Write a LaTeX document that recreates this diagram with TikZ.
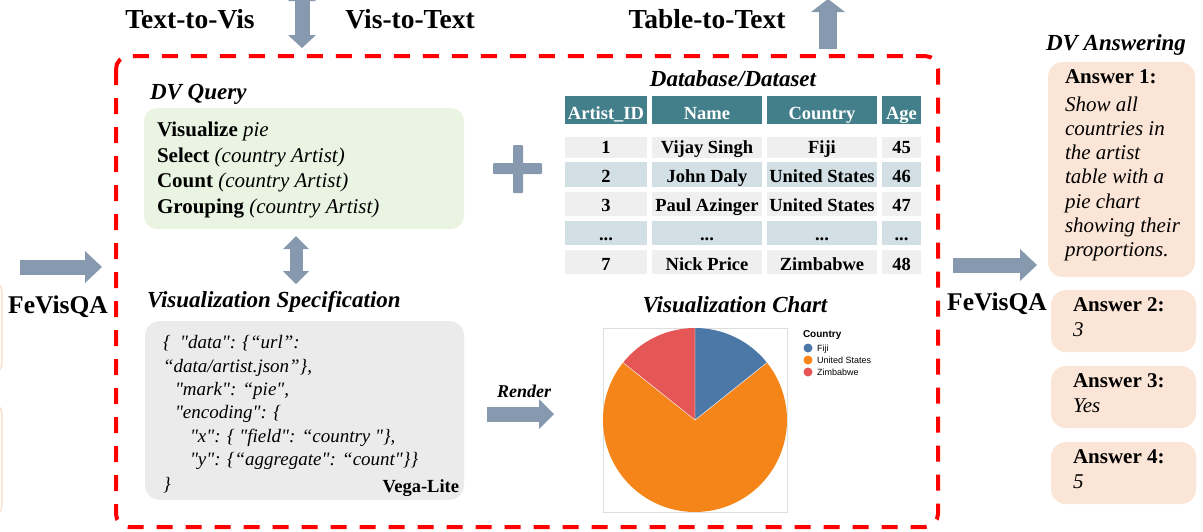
\documentclass[tikz,border=0pt]{standalone}
\usepackage{fontspec}
\setmainfont{Liberation Serif}
\newfontfamily\legendfont{Liberation Sans}
\newfontfamily\specfont{Liberation Serif}[Ligatures=TeXOff]
\usetikzlibrary{arrows.meta}
\definecolor{arrowc}{HTML}{8699AE}
\definecolor{framered}{HTML}{FF0000}
\definecolor{qgreen}{HTML}{EAF4E2}
\definecolor{specgray}{HTML}{EBEBEB}
\definecolor{ansorange}{HTML}{FBE5D6}
\definecolor{ansedge}{HTML}{F7DCC8}
\definecolor{headc}{HTML}{437F8A}
\definecolor{rowgray}{HTML}{EFEFEF}
\definecolor{rowblue}{HTML}{D2DFE5}
\definecolor{fijic}{HTML}{4C78A8}
\definecolor{usc}{HTML}{F58518}
\definecolor{zimc}{HTML}{E45756}
\definecolor{chartframe}{HTML}{DDDDDD}
\newcommand\fsz[1]{\fontsize{#1}{#1}\selectfont}
% table cell: name, xl, yt, xr, yb, fill, text, baseline
\newcommand\tcell[8]{%
  \node[cellbox, fill=#6, minimum width=#4pt-#2pt, minimum height=#5pt-#3pt, anchor=north west] (#1) at (#2,#3) {};
  \node[celltext, anchor=base] (#1t) at ({(#2+#4)/2},#8) {#7};
}
\begin{document}
\begin{tikzpicture}[x=1pt,y=-1pt,
  txt/.style={inner sep=0pt, outer sep=0pt},
  toplabel/.style={txt, font=\fsz{27.5}\bfseries},
  sectitle/.style={txt, font=\fsz{23}\bfseries\itshape},
  qline/.style={txt, font=\fsz{21}, anchor=base west},
  specline/.style={txt, font=\specfont\fsz{19}\itshape, anchor=base west},
  ansbold/.style={txt, font=\fsz{21}\bfseries, anchor=base west},
  ansital/.style={txt, font=\fsz{21}\itshape, anchor=base west},
  cellbox/.style={inner sep=0pt, outer sep=0pt, draw=none},
  celltext/.style={txt, font=\fsz{18.5}\bfseries},
  roundbox/.style={inner sep=0pt, outer sep=0pt, draw=none, rounded corners=13pt},
  ansbox/.style={roundbox, fill=ansorange, rounded corners=15pt},
  blockarrow/.style={draw=arrowc, fill=arrowc, line width=#1},
  legtext/.style={txt, font=\legendfont\fsz{9}, anchor=base west}
]
\useasboundingbox (0,0) rectangle (1203,531);

% faint clipped boxes at left edge
\begin{scope}
  \clip (0,0) rectangle (4,531);
  \draw[ansedge, line width=1.2pt, rounded corners=12pt] (-150,280) rectangle (2,375);
  \draw[ansedge, line width=1.2pt, rounded corners=12pt] (-150,402) rectangle (2,517);
\end{scope}

% red dashed frame
\draw[framered, line width=4pt, dash pattern=on 16pt off 13pt, rounded corners=13pt] (116,56) rectangle (938,527);

% top labels
\node[toplabel, anchor=base] (t2v) at (190,28) {Text-to-Vis};
\node[toplabel, anchor=base] (v2t) at (410,28) {Vis-to-Text};
\node[toplabel, anchor=base] (tab2t) at (707,28) {Table-to-Text};

% arrow anchor coordinates
\coordinate (topA) at (302,-12);
\coordinate (topB) at (302,48);
\coordinate (upA) at (828,49);
\coordinate (upB) at (828,-1);
\coordinate (midA) at (296,236);
\coordinate (midB) at (296,284);
\coordinate (leftA) at (20,267);
\coordinate (leftB) at (102,267);
\coordinate (rightA) at (953,265);
\coordinate (rightB) at (1037,265);
\coordinate (renA) at (487,414);
\coordinate (renB) at (554,414);

\draw[blockarrow=15pt, {Triangle[length=13pt,width=28pt,line width=0pt]}-{Triangle[length=13pt,width=28pt,line width=0pt]}] (topA) -- (topB);
\draw[blockarrow=18pt, -{Triangle[length=13pt,width=34pt,line width=0pt]}] (upA) -- (upB);
\draw[blockarrow=13pt, {Triangle[length=13pt,width=26pt,line width=0pt]}-{Triangle[length=13pt,width=26pt,line width=0pt]}] (midA) -- (midB);
\draw[blockarrow=15pt, -{Triangle[length=17pt,width=32pt,line width=0pt]}] (leftA) -- (leftB);
\draw[blockarrow=15pt, -{Triangle[length=17pt,width=32pt,line width=0pt]}] (rightA) -- (rightB);
\draw[blockarrow=15pt, -{Triangle[length=15pt,width=30pt,line width=0pt]}] (renA) -- (renB);

% FeVisQA labels
\node[txt, font=\fsz{25.5}\bfseries, anchor=base] (fvl) at (58,313) {FeVisQA};
\node[txt, font=\fsz{25.5}\bfseries, anchor=base] (fvr) at (997,310) {FeVisQA};

% DV Query
\node[sectitle, anchor=base west] (dvq) at (150,99) {DV Query};
\node[roundbox, fill=qgreen, minimum width=320pt, minimum height=121pt, anchor=north west] (query) at (144,108) {};
\node[qline] (q1) at (157,136) {\textbf{Visualize} \textit{pie}};
\node[qline] (q2) at (157,162) {\textbf{Select} \textit{(country Artist)}};
\node[qline] (q3) at (157,187) {\textbf{Count} \textit{(country Artist)}};
\node[qline] (q4) at (157,213) {\textbf{Grouping} \textit{(country Artist)}};

% plus sign
\fill[arrowc, rounded corners=1pt] (513,145) rectangle (523,193);
\fill[arrowc, rounded corners=1pt] (493,163) rectangle (542,174);

% Visualization specification
\node[sectitle, anchor=base west] (vst) at (147,307) {Visualization Specification};
\node[roundbox, fill=specgray, rounded corners=15pt, minimum width=319pt, minimum height=179pt, anchor=north west] (spec) at (145,321) {};
\node[specline] (s1) at (163,348) {\{\ \ "data": \{“url”:};
\node[specline] (s2) at (163,372) {“data/artist.json”\},};
\node[specline] (s3) at (175,395) {"mark": “pie",};
\node[specline] (s4) at (175,418) {"encoding": \{};
\node[specline] (s5) at (190,442) {"x": \{ "field": “country "\},};
\node[specline] (s6) at (190,465) {"y": \{“aggregate": “count"\}\}};
\node[specline] (s7) at (163,490) {\}};
\node[txt, font=\fsz{18.5}\bfseries, anchor=base east] (vl) at (459,492) {Vega-Lite};

% Render
\node[txt, font=\fsz{18}\bfseries\itshape, anchor=base] (render) at (524,397) {Render};

% Database table
\node[sectitle, anchor=base] (dbt) at (733,86) {Database/Dataset};
\tcell{h1}{565}{96}{647}{124}{headc}{\color{white}Artist\_ID}{119}
\tcell{h2}{652}{96}{762}{124}{headc}{\color{white}Name}{119}
\tcell{h3}{767}{96}{877}{124}{headc}{\color{white}Country}{119}
\tcell{h4}{882}{96}{921}{124}{headc}{\color{white}Age}{119}
\tcell{a1}{565}{137}{647}{158}{rowgray}{1}{153}
\tcell{a2}{652}{137}{762}{158}{rowgray}{Vijay Singh}{153}
\tcell{a3}{767}{137}{877}{158}{rowgray}{Fiji}{153}
\tcell{a4}{882}{137}{921}{158}{rowgray}{45}{153}
\tcell{b1}{565}{162}{647}{187}{rowblue}{2}{182}
\tcell{b2}{652}{162}{762}{187}{rowblue}{John Daly}{182}
\tcell{b3}{767}{162}{877}{187}{rowblue}{United States}{182}
\tcell{b4}{882}{162}{921}{187}{rowblue}{46}{182}
\tcell{c1}{565}{192}{647}{216}{rowgray}{3}{211}
\tcell{c2}{652}{192}{762}{216}{rowgray}{Paul Azinger}{211}
\tcell{c3}{767}{192}{877}{216}{rowgray}{United States}{211}
\tcell{c4}{882}{192}{921}{216}{rowgray}{47}{211}
\tcell{d1}{565}{221}{647}{245}{rowblue}{...}{240}
\tcell{d2}{652}{221}{762}{245}{rowblue}{...}{240}
\tcell{d3}{767}{221}{877}{245}{rowblue}{...}{240}
\tcell{d4}{882}{221}{921}{245}{rowblue}{...}{240}
\tcell{e1}{565}{250}{647}{274}{rowgray}{7}{270}
\tcell{e2}{652}{250}{762}{274}{rowgray}{Nick Price}{270}
\tcell{e3}{767}{250}{877}{274}{rowgray}{Zimbabwe}{270}
\tcell{e4}{882}{250}{921}{274}{rowgray}{48}{270}

% Visualization chart
\node[sectitle, anchor=base] (vct) at (735,312) {Visualization Chart};
\draw[chartframe, line width=0.8pt] (603,328) rectangle (787,512);
\coordinate (pc) at (695,420);
\fill[usc] (pc) -- ++(141.43:92pt) arc[start angle=141.43, end angle=398.57, radius=92pt] -- cycle;
\fill[fijic] (pc) -- ++(90:92pt) arc[start angle=90, end angle=38.57, radius=92pt] -- cycle;
\fill[zimc] (pc) -- ++(90:92pt) arc[start angle=90, end angle=141.43, radius=92pt] -- cycle;
\draw[white, line width=0.4pt] (pc) -- ++(90:92pt) (pc) -- ++(38.57:92pt) (pc) -- ++(141.43:92pt);
\node[txt, font=\legendfont\fsz{10}\bfseries, anchor=base west] (legt) at (803,337) {Country};
\fill[fijic] (808,348) circle[radius=4.5pt];
\fill[usc] (808,360) circle[radius=4.5pt];
\fill[zimc] (808,372) circle[radius=4.5pt];
\node[legtext] (l1) at (817,351) {Fiji};
\node[legtext] (l2) at (817,363) {United States};
\node[legtext] (l3) at (817,375) {Zimbabwe};

% DV Answering
\node[sectitle, anchor=base west] (dva) at (1046,50) {DV Answering};
\node[ansbox, minimum width=147pt, minimum height=215pt, anchor=north west] (ans1) at (1048,62) {};
\node[ansbold] (ans1h) at (1065,83) {Answer 1:};
\node[ansital] (ans1a) at (1065,111) {Show all};
\node[ansital] (ans1b) at (1065,135.3) {countries in};
\node[ansital] (ans1c) at (1065,159.6) {the artist};
\node[ansital] (ans1d) at (1065,183.9) {table with a};
\node[ansital] (ans1e) at (1065,208.2) {pie chart};
\node[ansital] (ans1f) at (1065,232.5) {showing their};
\node[ansital] (ans1g) at (1065,256.8) {proportions.};

\node[ansbox, minimum width=145pt, minimum height=62pt, anchor=north west] (ans2) at (1051,290) {};
\node[ansbold] (ans2h) at (1073,311) {Answer 2:};
\node[ansital] (ans2a) at (1073,336) {3};
\node[ansbox, minimum width=145pt, minimum height=62pt, anchor=north west] (ans3) at (1051,366) {};
\node[ansbold] (ans3h) at (1073,387) {Answer 3:};
\node[ansital] (ans3a) at (1073,412) {Yes};
\node[ansbox, minimum width=145pt, minimum height=62pt, anchor=north west] (ans4) at (1051,442) {};
\node[ansbold] (ans4h) at (1073,463) {Answer 4:};
\node[ansital] (ans4a) at (1073,488) {5};
\end{tikzpicture}
\end{document}
